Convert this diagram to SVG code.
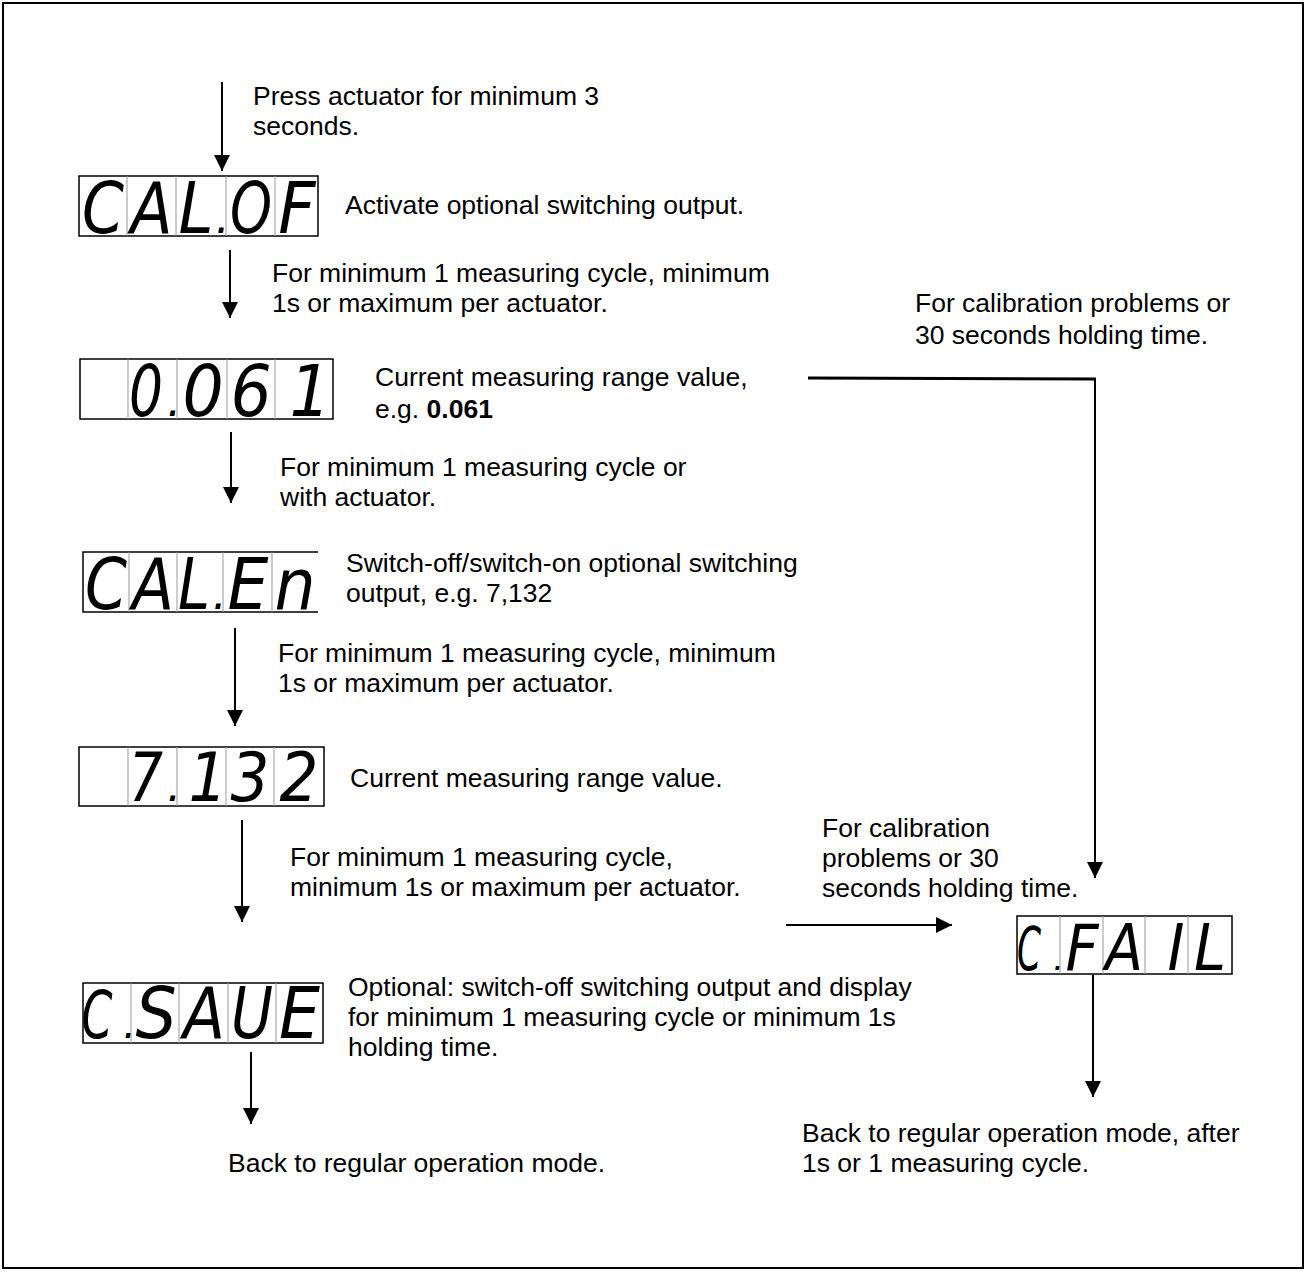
<svg xmlns="http://www.w3.org/2000/svg" width="1306" height="1272" viewBox="0 0 1306 1272">
<style>
.t{font-family:"Liberation Sans",Arial,sans-serif;font-size:26.5px;fill:#000}
.seg{font-family:"DejaVu Sans Condensed","DejaVu Sans",sans-serif;font-stretch:condensed;font-style:oblique;font-size:72px;text-anchor:middle;fill:#000}
.seg68{font-size:68px}
.seg64{font-size:64px}
.dp{font-weight:bold;font-size:29px}
.dp2{font-weight:bold;font-size:26px}
.dp3{font-weight:bold;font-size:22px}
.box{fill:none;stroke:#000;stroke-width:1.5}
.div{fill:none;stroke:#999;stroke-width:1}
.c{fill:none;stroke:#000;stroke-width:2}
</style>
<defs>
<marker id="ah" markerUnits="userSpaceOnUse" markerWidth="16" markerHeight="16" viewBox="0 0 16 16" refX="16" refY="8" orient="auto">
<path d="M0 0L16 8L0 16Z" fill="#000"/>
</marker>
</defs>
<rect x="0" y="0" width="1306" height="1272" fill="#fff"/>
<rect x="3" y="3" width="1300" height="1265" fill="none" stroke="#000" stroke-width="2"/>

<g id="connectors">
<line class="c" x1="222" y1="82" x2="222" y2="171" marker-end="url(#ah)"/>
<line class="c" x1="230" y1="250" x2="230" y2="318" marker-end="url(#ah)"/>
<line class="c" x1="231" y1="432" x2="231" y2="503" marker-end="url(#ah)"/>
<line class="c" x1="235" y1="628" x2="235" y2="726" marker-end="url(#ah)"/>
<line class="c" x1="242" y1="820" x2="242" y2="922" marker-end="url(#ah)"/>
<line class="c" x1="251" y1="1052" x2="251" y2="1124" marker-end="url(#ah)"/>
<line class="c" x1="786" y1="925" x2="952" y2="925" marker-end="url(#ah)"/>
<line class="c" x1="1093" y1="975" x2="1093" y2="1097" marker-end="url(#ah)"/>
<line x1="808" y1="378" x2="1096" y2="379" stroke="#000" stroke-width="3"/>
<line class="c" x1="1095" y1="378" x2="1095" y2="878" marker-end="url(#ah)"/>
</g>

<g id="label-start">
<text class="t" x="253" y="105">Press actuator for minimum 3</text>
<text class="t" x="253" y="135">seconds.</text>
</g>

<g id="node-cal-of">
<rect class="box" x="79" y="176" width="239" height="60"/>
<path class="div" d="M127 176V236M176 176V236M226 176V236M275 176V236"/>
<text class="seg" y="233"><tspan x="103" textLength="42" lengthAdjust="spacingAndGlyphs">C</tspan><tspan x="151.5" textLength="42" lengthAdjust="spacingAndGlyphs">A</tspan><tspan x="196" textLength="35" lengthAdjust="spacingAndGlyphs">L</tspan><tspan class="dp" x="222">.</tspan><tspan x="251" textLength="42" lengthAdjust="spacingAndGlyphs">O</tspan><tspan x="297">F</tspan></text>
<text class="t" x="345" y="214">Activate optional switching output.</text>
</g>

<g id="label-2">
<text class="t" x="272" y="282">For minimum 1 measuring cycle, minimum</text>
<text class="t" x="272" y="312">1s or maximum per actuator.</text>
</g>

<g id="label-fail-1">
<text class="t" x="915" y="312">For calibration problems or</text>
<text class="t" x="915" y="344">30 seconds holding time.</text>
</g>

<g id="node-0061">
<rect class="box" x="80" y="359" width="253" height="60"/>
<path class="div" d="M128 359V419M177 359V419M227 359V419M275 359V419"/>
<text class="seg" y="416"><tspan x="146" textLength="34" lengthAdjust="spacingAndGlyphs">0</tspan><tspan class="dp" x="173.5">.</tspan><tspan x="203">0</tspan><tspan x="251">6</tspan><tspan x="310">1</tspan></text>
<text class="t" x="375" y="386">Current measuring range value,</text>
<text class="t" x="375" y="418">e.g. <tspan font-weight="bold">0.061</tspan></text>
</g>

<g id="label-3">
<text class="t" x="280" y="476">For minimum 1 measuring cycle or</text>
<text class="t" x="280" y="506">with actuator.</text>
</g>

<g id="node-cal-en">
<path class="box" d="M318 552H83V612H318"/>
<path class="div" d="M129 552V612M177 552V612M223 552V612M272 552V612"/>
<text class="seg" y="609"><tspan x="106" textLength="42" lengthAdjust="spacingAndGlyphs">C</tspan><tspan x="153" textLength="42" lengthAdjust="spacingAndGlyphs">A</tspan><tspan x="194" textLength="32" lengthAdjust="spacingAndGlyphs">L</tspan><tspan class="dp" x="219">.</tspan><tspan x="248">E</tspan><tspan x="295">n</tspan></text>
<text class="t" x="346" y="572">Switch-off/switch-on optional switching</text>
<text class="t" x="346" y="602">output, e.g. 7,132</text>
</g>

<g id="label-4">
<text class="t" x="278" y="662">For minimum 1 measuring cycle, minimum</text>
<text class="t" x="278" y="692">1s or maximum per actuator.</text>
</g>

<g id="node-7132">
<rect class="box" x="79" y="747" width="245" height="59"/>
<path class="div" d="M128 747V806M177 747V806M226 747V806M274 747V806"/>
<text class="seg seg68" y="801"><tspan x="146" textLength="34" lengthAdjust="spacingAndGlyphs">7</tspan><tspan class="dp" x="173.5">.</tspan><tspan x="208">1</tspan><tspan x="250">3</tspan><tspan x="299">2</tspan></text>
<text class="t" x="350" y="787">Current measuring range value.</text>
</g>

<g id="label-5">
<text class="t" x="290" y="866">For minimum 1 measuring cycle,</text>
<text class="t" x="290" y="896">minimum 1s or maximum per actuator.</text>
</g>

<g id="label-fail-2">
<text class="t" x="822" y="837">For calibration</text>
<text class="t" x="822" y="867">problems or 30</text>
<text class="t" x="822" y="897">seconds holding time.</text>
</g>

<g id="node-c-save">
<rect class="box" x="83" y="983" width="240" height="60"/>
<path class="div" d="M131 983V1043M179 983V1043M228 983V1043M276 983V1043"/>
<text class="seg" y="1038"><tspan x="97" font-size="66" textLength="31" lengthAdjust="spacingAndGlyphs">C</tspan><tspan class="dp2" x="129">.</tspan><tspan x="156">S</tspan><tspan x="204" textLength="42" lengthAdjust="spacingAndGlyphs">A</tspan><tspan x="252" textLength="42" lengthAdjust="spacingAndGlyphs">U</tspan><tspan x="299.5">E</tspan></text>
<text class="t" x="348" y="996">Optional: switch-off switching output and display</text>
<text class="t" x="348" y="1026">for minimum 1 measuring cycle or minimum 1s</text>
<text class="t" x="348" y="1056">holding time.</text>
</g>

<g id="node-c-fail">
<rect class="box" x="1017" y="916" width="215" height="58"/>
<path class="div" d="M1060 916V974M1103 916V974M1145 916V974M1188 916V974"/>
<text class="seg seg64" y="970"><tspan x="1029" font-size="60" textLength="24" lengthAdjust="spacingAndGlyphs">C</tspan><tspan class="dp3" x="1058">.</tspan><tspan x="1082">F</tspan><tspan x="1124" textLength="38" lengthAdjust="spacingAndGlyphs">A</tspan><tspan x="1176">I</tspan><tspan x="1210">L</tspan></text>
</g>

<g id="label-end-1">
<text class="t" x="228" y="1172">Back to regular operation mode.</text>
</g>

<g id="label-end-2">
<text class="t" x="802" y="1142">Back to regular operation mode, after</text>
<text class="t" x="802" y="1172">1s or 1 measuring cycle.</text>
</g>
</svg>
